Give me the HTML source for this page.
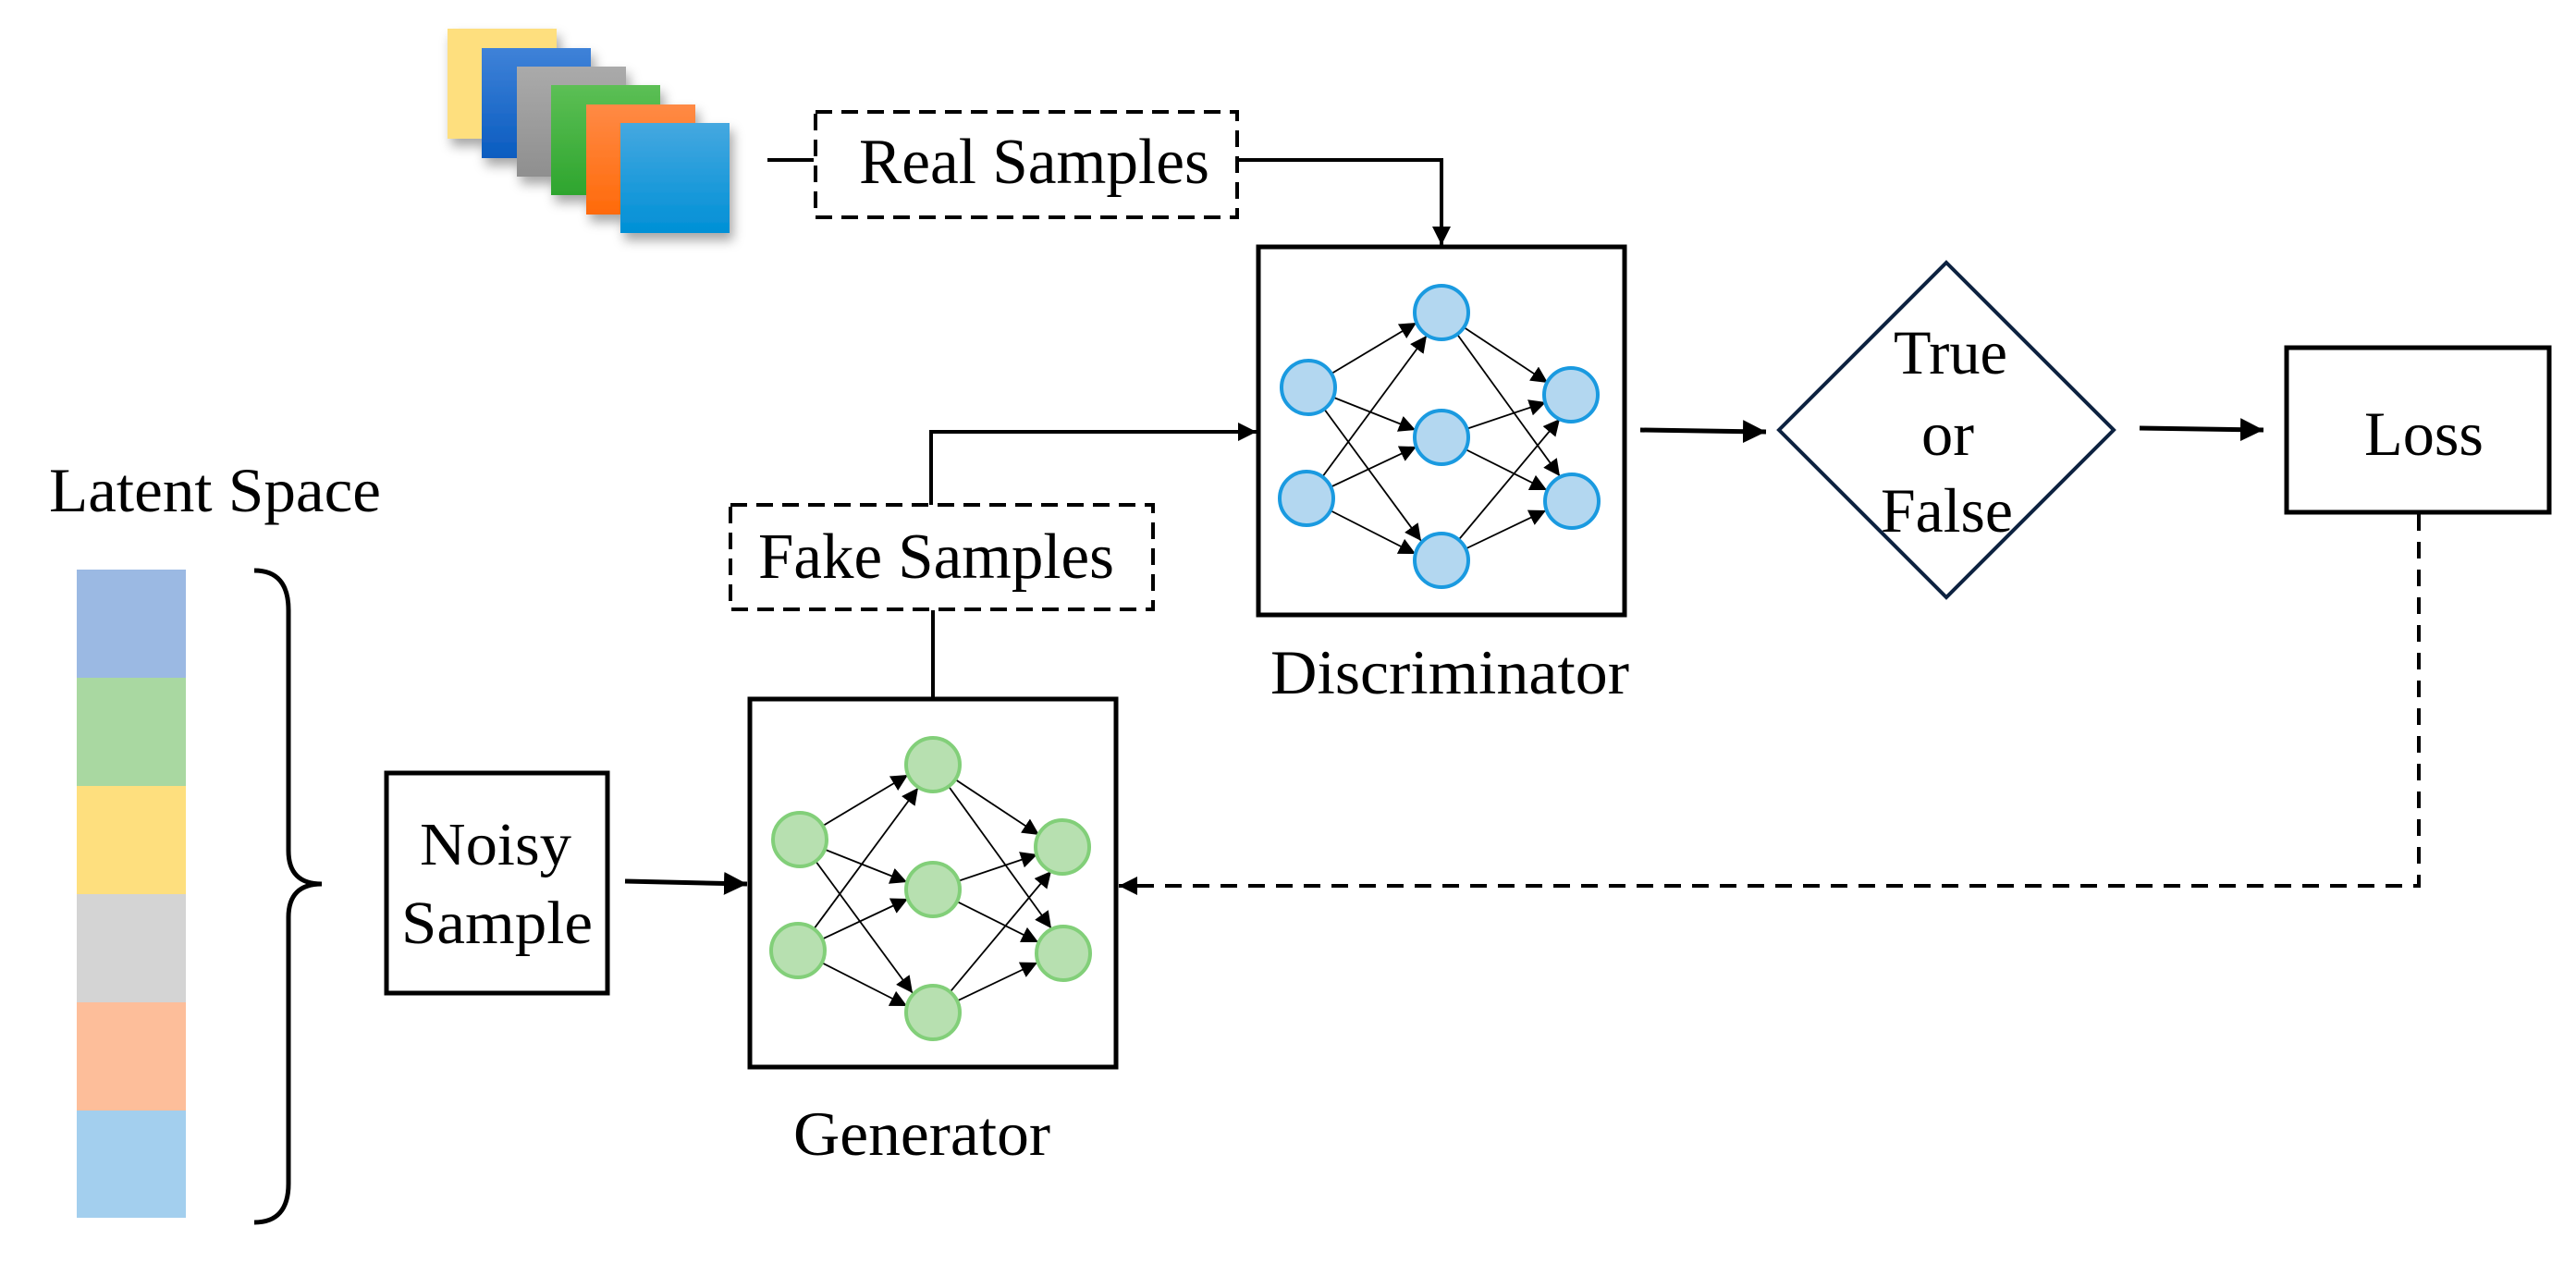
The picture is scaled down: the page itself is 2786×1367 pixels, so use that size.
<!DOCTYPE html>
<html><head><meta charset="utf-8"><style>
html,body{margin:0;padding:0;background:#fff;}
svg{display:block;}
text{font-family:"Liberation Serif","Times New Roman",serif;fill:#000;}
</style></head><body>
<svg width="2786" height="1367" viewBox="0 0 2786 1367" xmlns="http://www.w3.org/2000/svg">
<defs>
<marker id="ah" viewBox="0 0 10 10" refX="10" refY="5" markerWidth="10" markerHeight="10" markerUnits="strokeWidth" orient="auto"><path d="M0,0 L10,5 L0,10 z" fill="#000"/></marker>
<marker id="as" viewBox="0 0 10 10" refX="10" refY="5" markerWidth="5" markerHeight="5" markerUnits="strokeWidth" orient="auto"><path d="M0,0 L10,5 L0,10 z" fill="#000"/></marker>
<linearGradient id="gb" x1="0" y1="0" x2="0" y2="1"><stop offset="0" stop-color="#3f82d8"/><stop offset="1" stop-color="#0a5cc0"/></linearGradient>
<linearGradient id="gg" x1="0" y1="0" x2="0" y2="1"><stop offset="0" stop-color="#aaaaaa"/><stop offset="1" stop-color="#8f8f8f"/></linearGradient>
<linearGradient id="gn" x1="0" y1="0" x2="0" y2="1"><stop offset="0" stop-color="#5cbf55"/><stop offset="1" stop-color="#2ea52e"/></linearGradient>
<linearGradient id="go" x1="0" y1="0" x2="0" y2="1"><stop offset="0" stop-color="#ff8a45"/><stop offset="1" stop-color="#ff6a0a"/></linearGradient>
<linearGradient id="gc" x1="0" y1="0" x2="0" y2="1"><stop offset="0" stop-color="#45a8e0"/><stop offset="1" stop-color="#0090d6"/></linearGradient>
<filter id="sh" x="-20%" y="-20%" width="150%" height="150%"><feDropShadow dx="4" dy="8" stdDeviation="6" flood-color="#000" flood-opacity="0.35"/></filter>
</defs>

<g filter="url(#sh)">
<rect x="484" y="31" width="118" height="119" fill="#fedf7e"/>
<rect x="521" y="52" width="118" height="119" fill="url(#gb)"/>
<rect x="559" y="72" width="118" height="119" fill="url(#gg)"/>
<rect x="596" y="92" width="118" height="119" fill="url(#gn)"/>
<rect x="634" y="113" width="118" height="119" fill="url(#go)"/>
<rect x="671" y="133" width="118" height="119" fill="url(#gc)"/>
</g>

<line x1="830" y1="173" x2="880" y2="173" stroke="#000" stroke-width="4"/>
<rect x="882" y="121" width="456" height="114" fill="none" stroke="#000" stroke-width="4" stroke-dasharray="18,10"/>
<text x="929" y="198" font-size="70" textLength="379" lengthAdjust="spacingAndGlyphs">Real Samples</text>
<polyline points="1340,173 1559,173 1559,265" fill="none" stroke="#000" stroke-width="4" marker-end="url(#as)"/>

<text x="53" y="553" font-size="68" textLength="359" lengthAdjust="spacingAndGlyphs">Latent Space</text>
<rect x="83" y="616" width="118" height="117" fill="#9bb9e3"/>
<rect x="83" y="733" width="118" height="117" fill="#a9d8a1"/>
<rect x="83" y="850" width="118" height="117" fill="#fedf7e"/>
<rect x="83" y="967" width="118" height="117" fill="#d4d4d4"/>
<rect x="83" y="1084" width="118" height="117" fill="#fdbe9a"/>
<rect x="83" y="1201" width="118" height="116" fill="#a3cfee"/>
<path d="M275,617 Q312,617 312,660 L312,920 Q312,956 348,956 Q312,956 312,992 L312,1280 Q312,1322 275,1322" fill="none" stroke="#000" stroke-width="5"/>

<rect x="418" y="836" width="239" height="238" fill="none" stroke="#000" stroke-width="5"/>
<text x="454" y="935" font-size="66" textLength="164" lengthAdjust="spacingAndGlyphs">Noisy</text>
<text x="434" y="1020" font-size="66" textLength="207" lengthAdjust="spacingAndGlyphs">Sample</text>
<line x1="676" y1="953" x2="808" y2="956" stroke="#000" stroke-width="5" marker-end="url(#as)"/>

<rect x="790" y="546" width="457" height="113" fill="none" stroke="#000" stroke-width="4" stroke-dasharray="18,10"/>
<text x="820" y="625" font-size="70" textLength="385" lengthAdjust="spacingAndGlyphs">Fake Samples</text>
<line x1="1009" y1="660" x2="1009" y2="756" stroke="#000" stroke-width="4"/>
<polyline points="1007,546 1007,467 1359,467" fill="none" stroke="#000" stroke-width="4" marker-end="url(#as)"/>

<rect x="811" y="756" width="396" height="398" fill="#fff" stroke="#000" stroke-width="5"/>
<g transform="translate(811,756)" stroke="#000" stroke-width="1.8" fill="none">
<g marker-end="url(#ah)">
<line x1="54" y1="152" x2="171" y2="82"/><line x1="54" y1="152" x2="170" y2="198"/><line x1="54" y1="152" x2="176" y2="318"/>
<line x1="52" y1="272" x2="182" y2="96"/><line x1="52" y1="272" x2="171" y2="216"/><line x1="52" y1="272" x2="170" y2="332"/>
<line x1="198" y1="71" x2="313" y2="147"/><line x1="198" y1="71" x2="326" y2="248"/>
<line x1="198" y1="206" x2="311" y2="168"/><line x1="198" y1="206" x2="312" y2="263"/>
<line x1="198" y1="339" x2="326" y2="186"/><line x1="198" y1="339" x2="311" y2="285"/>
</g>
<g fill="#b7e0b0" stroke="#82cf79" stroke-width="4">
<circle cx="54" cy="152" r="29"/><circle cx="52" cy="272" r="29"/>
<circle cx="198" cy="71" r="29"/><circle cx="198" cy="206" r="29"/><circle cx="198" cy="339" r="29"/>
<circle cx="338" cy="160" r="29"/><circle cx="339" cy="275" r="29"/>
</g></g>
<text x="858" y="1249" font-size="68" textLength="278" lengthAdjust="spacingAndGlyphs">Generator</text>

<rect x="1361" y="267" width="396" height="398" fill="#fff" stroke="#000" stroke-width="5"/>
<g transform="translate(1361,267)" stroke="#000" stroke-width="1.8" fill="none">
<g marker-end="url(#ah)">
<line x1="54" y1="152" x2="171" y2="82"/><line x1="54" y1="152" x2="170" y2="198"/><line x1="54" y1="152" x2="176" y2="318"/>
<line x1="52" y1="272" x2="182" y2="96"/><line x1="52" y1="272" x2="171" y2="216"/><line x1="52" y1="272" x2="170" y2="332"/>
<line x1="198" y1="71" x2="313" y2="147"/><line x1="198" y1="71" x2="326" y2="248"/>
<line x1="198" y1="206" x2="311" y2="168"/><line x1="198" y1="206" x2="312" y2="263"/>
<line x1="198" y1="339" x2="326" y2="186"/><line x1="198" y1="339" x2="311" y2="285"/>
</g>
<g fill="#b3d7f0" stroke="#1a9ae0" stroke-width="4">
<circle cx="54" cy="152" r="29"/><circle cx="52" cy="272" r="29"/>
<circle cx="198" cy="71" r="29"/><circle cx="198" cy="206" r="29"/><circle cx="198" cy="339" r="29"/>
<circle cx="338" cy="160" r="29"/><circle cx="339" cy="275" r="29"/>
</g></g>
<text x="1374" y="750" font-size="68" textLength="388" lengthAdjust="spacingAndGlyphs">Discriminator</text>

<line x1="1774" y1="465" x2="1910" y2="467" stroke="#000" stroke-width="5" marker-end="url(#as)"/>
<polygon points="2105,284 2286,465 2105,646 1924,465" fill="none" stroke="#0d2240" stroke-width="4"/>
<text x="2048" y="404" font-size="68" textLength="123" lengthAdjust="spacingAndGlyphs">True</text>
<text x="2078" y="492" font-size="68" textLength="57" lengthAdjust="spacingAndGlyphs">or</text>
<text x="2034" y="575" font-size="68" textLength="143" lengthAdjust="spacingAndGlyphs">False</text>
<line x1="2314" y1="463" x2="2448" y2="465" stroke="#000" stroke-width="5" marker-end="url(#as)"/>

<rect x="2473" y="376" width="284" height="178" fill="none" stroke="#000" stroke-width="5"/>
<text x="2557" y="492" font-size="68" textLength="129" lengthAdjust="spacingAndGlyphs">Loss</text>
<polyline points="2616,556 2616,958 1210,958" fill="none" stroke="#000" stroke-width="4" stroke-dasharray="18,12" marker-end="url(#as)"/>
</svg>
</body></html>
